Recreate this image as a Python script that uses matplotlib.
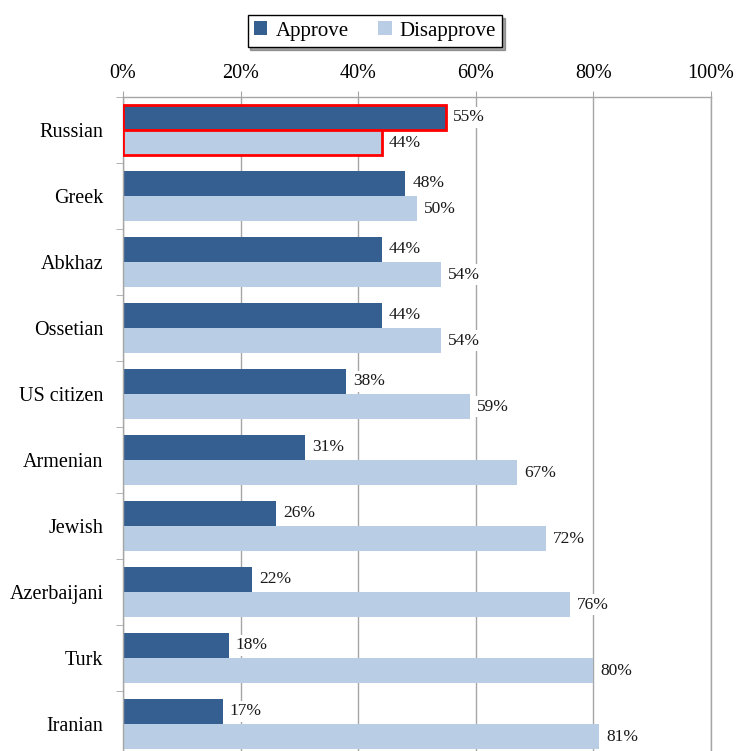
import numpy as np
import matplotlib
matplotlib.use("Agg")
import matplotlib.pyplot as plt
from matplotlib.patches import Patch
from matplotlib.ticker import FixedLocator

plt.rcParams['font.family'] = ['Liberation Serif', 'DejaVu Serif']

# data
groups = ["Russian", "Greek", "Abkhaz", "Ossetian", "US citizen",
          "Armenian", "Jewish", "Azerbaijani", "Turk", "Iranian"]
approve = [55, 48, 44, 44, 38, 31, 26, 22, 18, 17]
disapprove = [44, 50, 54, 54, 59, 67, 72, 76, 80, 81]
series_names = ["Approve", "Disapprove"]
x_ticks = [0, 20, 40, 60, 80, 100]

dark = "#365F91"
light = "#B9CDE5"
grid_col = "#A6A6A6"

fig = plt.figure(figsize=(7.39, 7.51), dpi=100)
# axes box: left 123px, right 711px, top 97px, runs a bit past the bottom edge
ax = fig.add_axes([123 / 739, (751 - 757) / 751, 588 / 739, 660 / 751])

n = len(groups)
y = np.arange(n)
h = 0.38

b1 = ax.barh(y - h / 2, approve, height=h, color=dark, zorder=2)
b2 = ax.barh(y + h / 2, disapprove, height=h, color=light, zorder=2)

# red outline on the Russian pair
for b in (b1[0], b2[0]):
    b.set_edgecolor("#FF0000")
    b.set_linewidth(2)
    b.set_zorder(3)

# value labels
for bars, vals in ((b1, approve), (b2, disapprove)):
    for bar, v in zip(bars, vals):
        ax.annotate(f"{v}%", (bar.get_width(), bar.get_y() + bar.get_height() / 2),
                    xytext=(5, 0), textcoords="offset points",
                    ha="left", va="center", fontsize=12.5, color="#1a1a1a",
                    bbox=dict(boxstyle="square,pad=0.15", fc="white", ec="none"),
                    zorder=4)

ax.set_xlim(0, 100)
ax.set_ylim(n - 0.5, -0.5)

ax.xaxis.tick_top()
ax.set_xticks(x_ticks)
ax.set_xticklabels([f"{t}%" for t in x_ticks], fontsize=14.5)
ax.tick_params(axis="x", length=4, color=grid_col, pad=6)
ax.xaxis.grid(True, color=grid_col, linewidth=1, zorder=0)
ax.set_axisbelow(True)

ax.set_yticks(y)
ax.set_yticklabels(groups, fontsize=14.5)
ax.tick_params(axis="y", which="major", length=0, pad=14)
ax.yaxis.set_minor_locator(FixedLocator(np.arange(n + 1) - 0.5))
ax.tick_params(axis="y", which="minor", length=5, color=grid_col)

ax.spines["bottom"].set_visible(False)
for s in ("top", "left", "right"):
    ax.spines[s].set_color(grid_col)
    ax.spines[s].set_linewidth(1)

handles = [Patch(facecolor=dark), Patch(facecolor=light)]
leg = fig.legend(handles, series_names, loc="center",
                 bbox_to_anchor=(375 / 739, 1 - 31 / 751), ncol=2,
                 fontsize=15, frameon=True, fancybox=False, shadow=True,
                 handlelength=0.65, handleheight=0.65, handletextpad=0.4,
                 columnspacing=1.4, borderpad=0.3, borderaxespad=0)
leg.get_frame().set_edgecolor("black")
leg.get_frame().set_linewidth(1)

fig.savefig("out.png", dpi=100)
